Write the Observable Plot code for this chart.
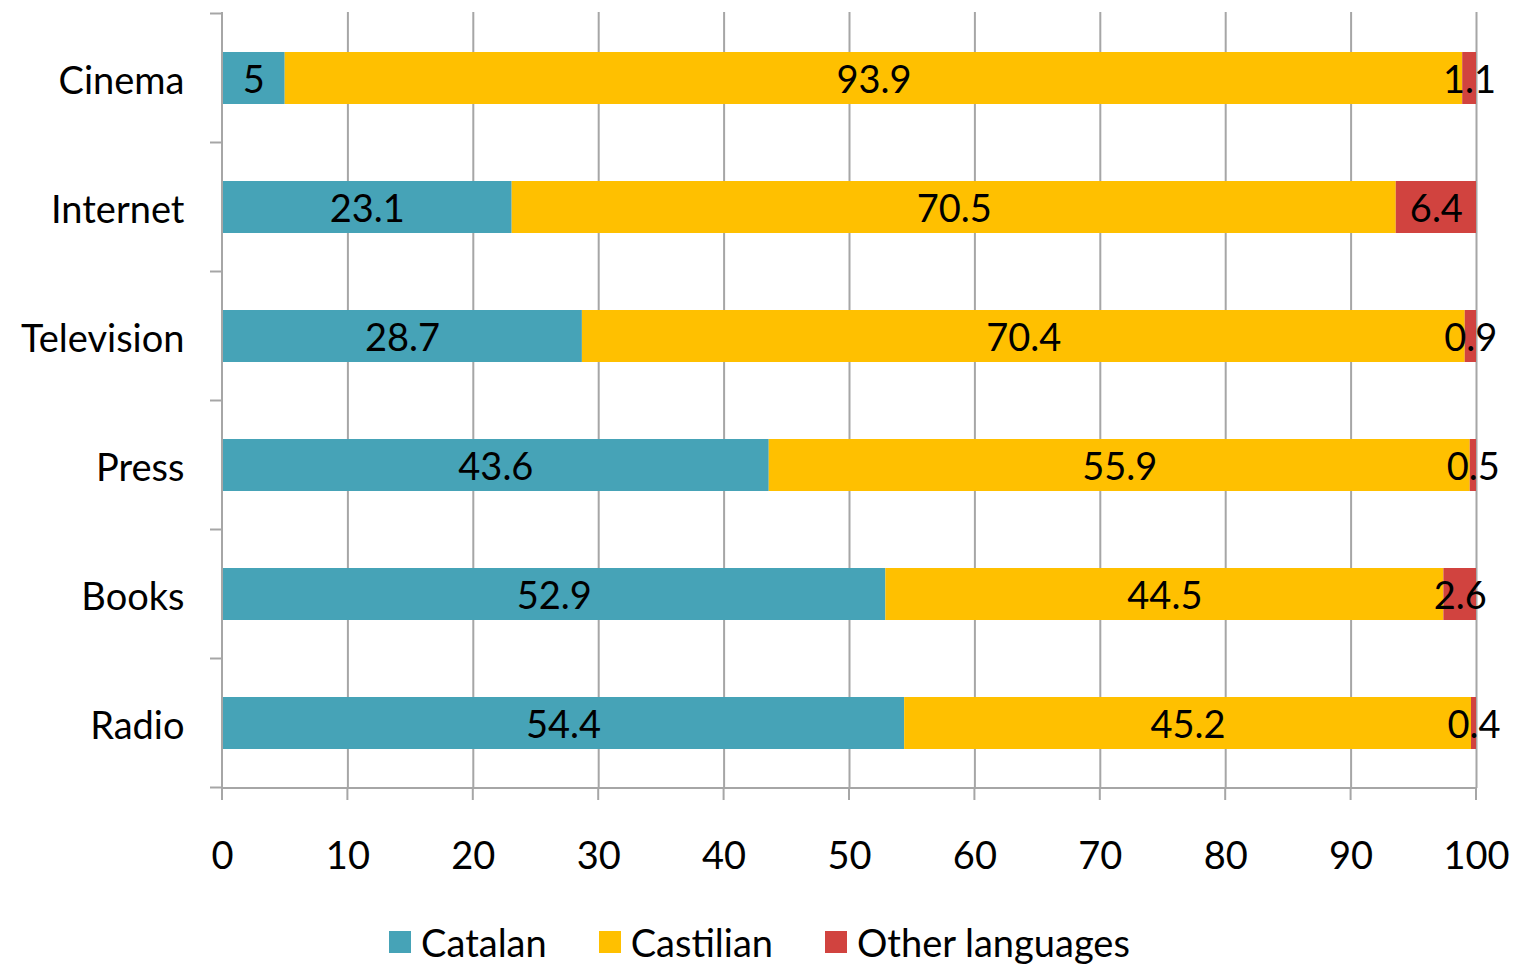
<!DOCTYPE html>
<html>
<head>
<meta charset="utf-8">
<script src="https://cdn.jsdelivr.net/npm/d3@7"></script>
<script src="https://cdn.jsdelivr.net/npm/@observablehq/plot@0.6"></script>
<style>
  html, body { margin: 0; padding: 0; background: #fff; }
  body { font-family: Lato, "Open Sans", sans-serif; }
  #legend {
    width: 1519px; height: 61px; display: flex; justify-content: center;
    align-items: center; padding-top: 12px; box-sizing: border-box;
    font-size: 38px; color: #000; line-height: 1;
  }
  #legend .item { display: flex; align-items: center; margin: 0 26px; }
  #legend .sw { width: 22px; height: 22px; margin-right: 10px; }
</style>
</head>
<body>
<div id="chart"></div>
<div id="legend"></div>
<script>
// Media consumption by language (%)
const categories = ["Cinema", "Internet", "Television", "Press", "Books", "Radio"];
const languages = ["Catalan", "Castilian", "Other languages"];
const colors = ["#46A3B7", "#FFC000", "#D1433F"];
const catalan = [5, 23.1, 28.7, 43.6, 52.9, 54.4];
const castilian = [93.9, 70.5, 70.4, 55.9, 44.5, 45.2];
const other = [1.1, 6.4, 0.9, 0.5, 2.6, 0.4];
const xTicks = [0, 10, 20, 30, 40, 50, 60, 70, 80, 90, 100];

const series = [catalan, castilian, other];
const data = [];
categories.forEach((c, i) => {
  languages.forEach((lang, j) => data.push({category: c, lang, value: series[j][i]}));
});

const grey = "#a6a6a6";

// Axis frame: left line with ticks between categories, bottom line with ticks
function frame(index, scales, values, dim) {
  const {x, y} = scales;
  const g = d3.create("svg:g").attr("stroke", grey).attr("stroke-width", 2).attr("fill", "none");
  const top = dim.marginTop, bottom = dim.height - dim.marginBottom;
  const x0 = x(0), x1 = x(100);
  const step = typeof y.step === "function" ? y.step() : (bottom - top) / categories.length;
  const bw = typeof y.bandwidth === "function" ? y.bandwidth() : step * 0.4;
  const bounds = categories.map(c => y(c) - (step - bw) / 2);
  bounds.push(y(categories[categories.length - 1]) + bw + (step - bw) / 2);
  g.append("line").attr("x1", x0).attr("x2", x0).attr("y1", top).attr("y2", bottom);
  for (const b of bounds) {
    g.append("line").attr("x1", x0 - 12).attr("x2", x0).attr("y1", b).attr("y2", b);
  }
  g.append("line").attr("x1", x0).attr("x2", x1).attr("y1", bottom).attr("y2", bottom);
  for (const t of xTicks) {
    g.append("line").attr("x1", x(t)).attr("x2", x(t)).attr("y1", bottom).attr("y2", bottom + 12);
  }
  return g.node();
}

const chart = Plot.plot({
  width: 1519,
  height: 905,
  marginLeft: 222,
  marginRight: 43,
  marginTop: 12,
  marginBottom: 117,
  style: {fontFamily: "Lato, 'Open Sans', sans-serif", fontSize: "38px", color: "#000", background: "#fff"},
  x: {domain: [0, 100], ticks: xTicks, tickSize: 0, tickPadding: 54, label: null, tickFormat: d => String(d)},
  y: {domain: categories, paddingInner: 0.6, paddingOuter: 0.3, tickSize: 0, tickPadding: 38, label: null},
  color: {domain: languages, range: colors},
  marks: [
    Plot.ruleX(xTicks.slice(1), {stroke: grey, strokeWidth: 2}),
    Plot.barX(data, {x: "value", y: "category", fill: "lang"}),
    Plot.textX(data, Plot.stackX({x: "value", y: "category", z: "lang", text: d => String(d.value), fill: "#000", fontSize: 38, dy: 2})),
    Plot.text(categories, {x: 0, y: d => d, text: d => d, textAnchor: "end", dx: -38, dy: 3, fontSize: 38, fill: "#000"}),
    frame
  ]
});
// category labels are drawn as a text mark (slightly lowered); hide the default y tick labels
chart.querySelectorAll('[aria-label="y-axis"] text, [aria-label="y-axis tick label"] text').forEach(t => t.remove());
document.getElementById("chart").appendChild(chart);

// Legend
const legend = d3.select("#legend");
languages.forEach((lang, i) => {
  const item = legend.append("div").attr("class", "item");
  item.append("div").attr("class", "sw").style("background", colors[i]);
  item.append("span").text(lang);
});
</script>
</body>
</html>
